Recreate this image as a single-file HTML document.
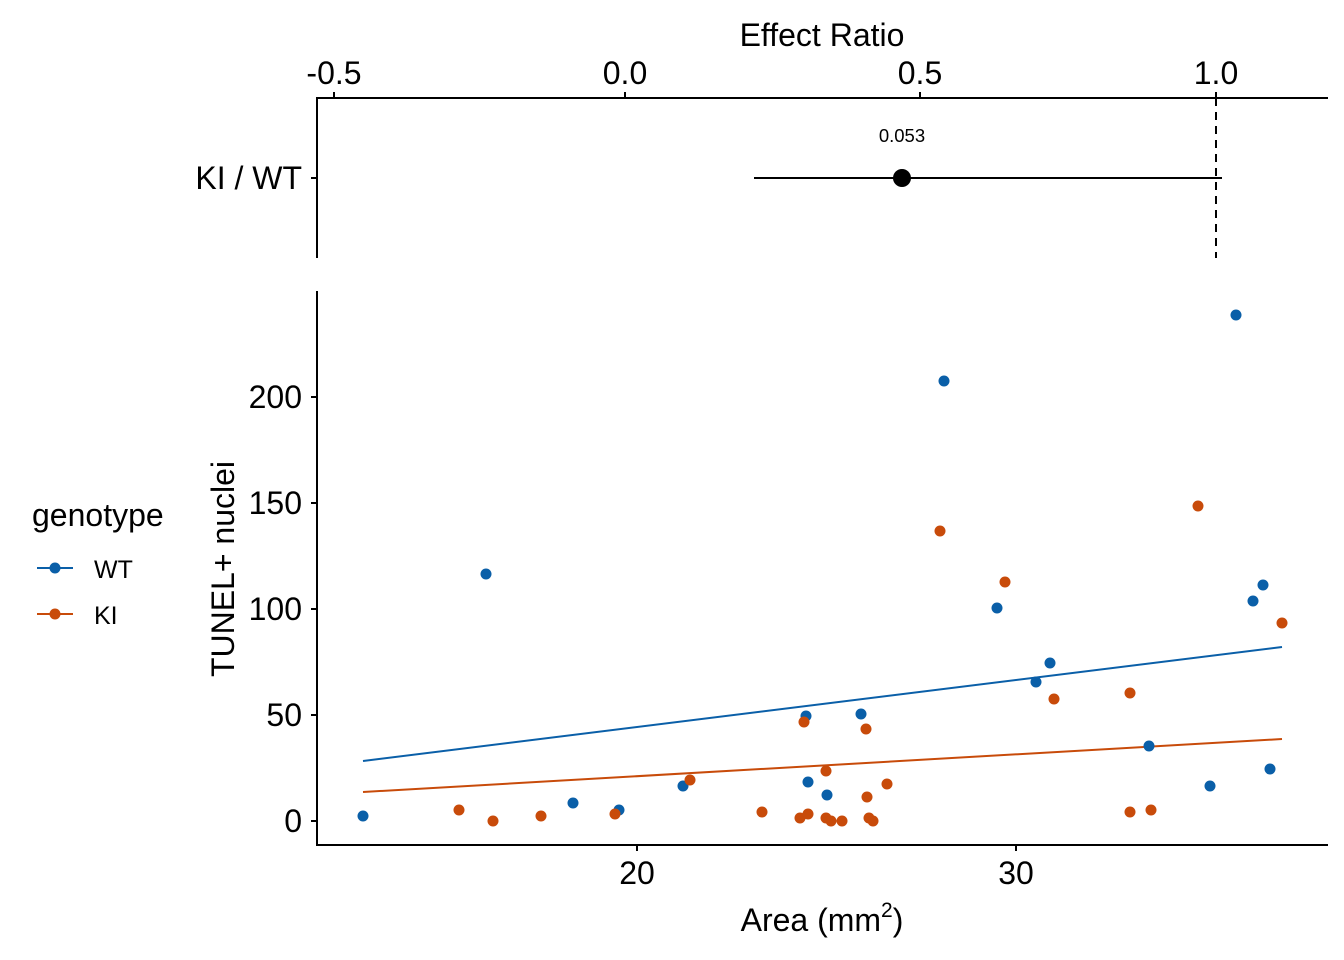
<!DOCTYPE html>
<html><head><meta charset="utf-8"><style>body{margin:0;background:#fff}svg{display:block}text{font-family:"Liberation Sans",Arial,sans-serif}</style></head>
<body>
<svg width="1344" height="960" viewBox="0 0 1344 960" xmlns="http://www.w3.org/2000/svg">
<rect width="1344" height="960" fill="#fff"/>
<g stroke="#000" stroke-width="2" fill="none">
<line x1="317" y1="98" x2="1328" y2="98"/>
<line x1="317" y1="97" x2="317" y2="258"/>
<line x1="334" y1="92" x2="334" y2="98"/><line x1="625" y1="92" x2="625" y2="98"/>
<line x1="920" y1="92" x2="920" y2="98"/><line x1="1216" y1="92" x2="1216" y2="98"/>
<line x1="311" y1="178" x2="317" y2="178"/>
<line x1="1216" y1="98" x2="1216" y2="258" stroke-dasharray="8,6"/>
<line x1="754" y1="178" x2="1222" y2="178"/>
</g>
<circle cx="902" cy="178" r="9" fill="#000"/>
<text x="902" y="142" font-size="18.5" text-anchor="middle">0.053</text>
<g font-size="32" text-anchor="middle">
<text x="334" y="84">-0.5</text><text x="625" y="84">0.0</text><text x="920" y="84">0.5</text><text x="1216" y="84">1.0</text>
<text x="822" y="46">Effect Ratio</text>
</g>
<text x="302" y="189" font-size="32" text-anchor="end">KI / WT</text>
<g stroke="#000" stroke-width="2" fill="none">
<line x1="317" y1="291" x2="317" y2="846"/>
<line x1="316" y1="845" x2="1328" y2="845"/>
<line x1="311" y1="821" x2="317" y2="821"/><line x1="311" y1="715" x2="317" y2="715"/>
<line x1="311" y1="609" x2="317" y2="609"/><line x1="311" y1="503" x2="317" y2="503"/>
<line x1="311" y1="397" x2="317" y2="397"/>
<line x1="637" y1="845" x2="637" y2="851"/><line x1="1016" y1="845" x2="1016" y2="851"/>
</g>
<g font-size="32" text-anchor="end">
<text x="302" y="832">0</text><text x="302" y="726">50</text><text x="302" y="620">100</text><text x="302" y="514">150</text><text x="302" y="408">200</text>
</g>
<g font-size="32" text-anchor="middle">
<text x="637" y="884">20</text><text x="1016" y="884">30</text>
<text x="822" y="931">Area (mm<tspan font-size="21" dy="-14">2</tspan><tspan dy="14">)</tspan></text>
</g>
<text transform="translate(234,569) rotate(-90)" font-size="32" text-anchor="middle">TUNEL+ nuclei</text>
<line x1="363" y1="761" x2="1282" y2="647" stroke="#0a5fa8" stroke-width="2"/>
<line x1="363" y1="792" x2="1282" y2="739" stroke="#c84b0a" stroke-width="2"/>
<g fill="#0a5fa8">
<circle cx="363" cy="816" r="5.5"/><circle cx="486" cy="574" r="5.5"/><circle cx="573" cy="803" r="5.5"/><circle cx="619" cy="810" r="5.5"/><circle cx="683" cy="786" r="5.5"/><circle cx="806" cy="716" r="5.5"/><circle cx="808" cy="782" r="5.5"/><circle cx="827" cy="795" r="5.5"/><circle cx="861" cy="714" r="5.5"/><circle cx="944" cy="381" r="5.5"/><circle cx="997" cy="608" r="5.5"/><circle cx="1036" cy="682" r="5.5"/><circle cx="1050" cy="663" r="5.5"/><circle cx="1149" cy="746" r="5.5"/><circle cx="1210" cy="786" r="5.5"/><circle cx="1236" cy="315" r="5.5"/><circle cx="1253" cy="601" r="5.5"/><circle cx="1263" cy="585" r="5.5"/><circle cx="1270" cy="769" r="5.5"/>
</g>
<g fill="#c84b0a">
<circle cx="459" cy="810" r="5.5"/><circle cx="493" cy="821" r="5.5"/><circle cx="541" cy="816" r="5.5"/><circle cx="615" cy="814" r="5.5"/><circle cx="690" cy="780" r="5.5"/><circle cx="762" cy="812" r="5.5"/><circle cx="800" cy="818" r="5.5"/><circle cx="804" cy="722" r="5.5"/><circle cx="808" cy="814" r="5.5"/><circle cx="826" cy="771" r="5.5"/><circle cx="826" cy="818" r="5.5"/><circle cx="831" cy="821" r="5.5"/><circle cx="842" cy="821" r="5.5"/><circle cx="866" cy="729" r="5.5"/><circle cx="867" cy="797" r="5.5"/><circle cx="869" cy="818" r="5.5"/><circle cx="873" cy="821" r="5.5"/><circle cx="887" cy="784" r="5.5"/><circle cx="940" cy="531" r="5.5"/><circle cx="1005" cy="582" r="5.5"/><circle cx="1054" cy="699" r="5.5"/><circle cx="1130" cy="693" r="5.5"/><circle cx="1130" cy="812" r="5.5"/><circle cx="1151" cy="810" r="5.5"/><circle cx="1198" cy="506" r="5.5"/><circle cx="1282" cy="623" r="5.5"/>
</g>
<text x="32" y="526" font-size="32">genotype</text>
<line x1="37" y1="568" x2="73" y2="568" stroke="#0a5fa8" stroke-width="2"/><circle cx="55" cy="568" r="5.5" fill="#0a5fa8"/>
<line x1="37" y1="614" x2="73" y2="614" stroke="#c84b0a" stroke-width="2"/><circle cx="55" cy="614" r="5.5" fill="#c84b0a"/>
<text x="94" y="578" font-size="25">WT</text>
<text x="94" y="624" font-size="25">KI</text>
</svg>
</body></html>
